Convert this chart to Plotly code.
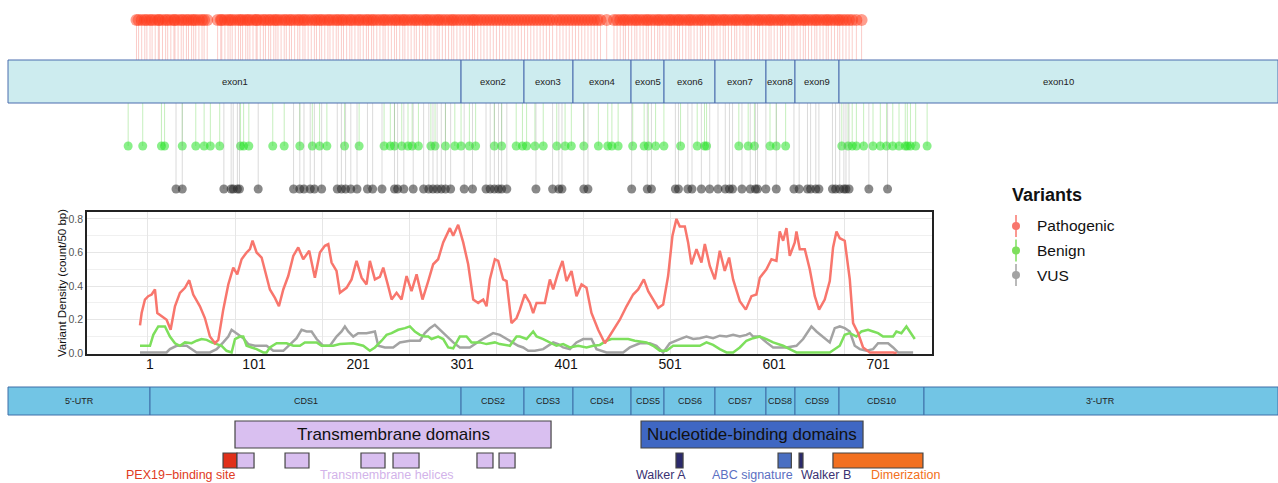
import plotly.graph_objects as go

# ---------------- data ----------------
# gene structure (protein-coordinate scale, aa; UTRs extend beyond 1..745)
exon_names = ["exon1", "exon2", "exon3", "exon4", "exon5", "exon6", "exon7", "exon8", "exon9", "exon10"]
exon_bounds = [-135.5, 300, 360.5, 407.6, 463.4, 495.1, 544.1, 593.1, 621, 663.3, 1085.3]
cds_names = ["5'-UTR", "CDS1", "CDS2", "CDS3", "CDS4", "CDS5", "CDS6", "CDS7", "CDS8", "CDS9", "CDS10", "3'-UTR"]
cds_bounds = [-135.5, 1, 300, 360.5, 407.6, 463.4, 495.1, 544.1, 593.1, 621, 663.3, 745, 1085.3]

domain_names = ["Transmembrane domains", "Nucleotide-binding domains"]
domain_start = [82.7, 473.0]
domain_end = [386.5, 686.4]

pex19_start = [71.2]
pex19_end = [84.6]
tm_helix_start = [84.6, 130.8, 203.8, 234.6, 315.3, 336.5]
tm_helix_end = [101.0, 153.8, 226.9, 259.6, 330.7, 351.9]
walker_a = [506.6, 513.4]
abc_signature = [604.7, 617.5]
walker_b = [624.9, 628.7]
dimerization = [657.5, 744.0]

feature_labels = ["PEX19\u2212binding site", "Transmembrane helices", "Walker A", "ABC signature", "Walker B", "Dimerization"]
feature_label_pos = [30.8, 228.8, 492.2, 579.7, 650.8, 727.7]

axis_tick_vals = [1, 101, 201, 301, 401, 501, 601, 701]
axis_tick_text = ["1", "101", "201", "301", "401", "501", "601", "701"]

# variant positions (aa scale)
pathogenic_pos = [-12, -10, -7, -4, -2, 1, 3, 6, 9, 10, 13, 16, 18, 21, 24, 25, 28, 31, 33, 36, 38, 41, 43, 45, 48, 51, 53, 56,
                  66, 69, 70, 73, 76, 78, 80, 83, 86, 88, 90, 93, 95, 97, 100, 103, 104, 107, 110, 112, 115, 117, 120, 122,
                  124, 127, 130, 132, 135, 137, 140, 143, 145, 148, 150, 153, 156, 159, 161, 164, 166, 169, 172, 174, 177,
                  180, 182, 185, 187, 190, 193, 195, 198, 201, 203, 206, 209, 211, 214, 216, 219, 222, 225, 227, 230, 233,
                  236, 238, 241, 244, 246, 249, 252, 255, 257, 260, 263, 266, 268, 271, 274, 277, 279, 282, 285, 288, 291,
                  293, 296, 299, 302, 305, 308, 311, 313, 316, 319, 322, 325, 328, 331, 334, 337, 340, 343, 346, 349, 352,
                  355, 358, 361, 364, 367, 370, 373, 376, 379, 382, 385, 388, 392, 395, 398, 401, 404, 407, 410, 413, 416,
                  419, 422, 425, 428, 431, 434, 440, 447, 450, 453, 456, 458, 461, 464, 467, 469, 472, 475, 478, 480, 483,
                  486, 489, 491, 494, 497, 500, 502, 505, 508, 510, 513, 516, 519, 521, 524, 527, 530, 532, 535, 538, 541,
                  543, 546, 549, 552, 554, 557, 560, 563, 565, 568, 571, 574, 576, 579, 582, 585, 587, 590, 593, 596, 598,
                  601, 604, 607, 609, 612, 615, 618, 620, 623, 626, 629, 631, 634, 637, 640, 642, 645, 648, 651, 653, 656,
                  659, 662, 664, 667, 670, 673, 676, 680, 685]
benign_pos = [-20, -6, 12, 15, 32, 45, 53, 59, 68, 88, 91, 96, 119, 130, 145, 157, 164, 171, 188, 202, 226, 232, 236,
              243, 249, 253, 259, 271, 275, 285, 294, 300, 308, 314, 332, 339, 353, 359, 363, 371, 379, 392, 400, 406,
              418, 432, 441, 445, 451, 465, 476, 480, 487, 495, 511, 527, 534, 536, 567, 576, 582, 597, 603, 612, 666,
              672, 676, 680, 687, 696, 703, 709, 715, 721, 727, 729, 732, 737, 748]
vus_pos = [26, 32, 72, 79, 81, 85, 87, 105, 139, 145, 149, 155, 159, 166, 181, 185, 189, 194, 200, 210, 215, 224, 236,
           239, 245, 254, 264, 269, 273, 277, 281, 285, 290, 303, 311, 324, 328, 332, 336, 339, 344, 372, 388, 394, 397,
           418, 422, 464, 479, 483, 506, 509, 518, 522, 531, 539, 547, 554, 558, 561, 570, 578, 583, 585, 593, 603,
           620, 625, 633, 636, 641, 644, 657, 660, 664, 668, 670, 673, 692, 710]

# density curves (count/50 bp) on the density-panel scale
path_x = [-8.2, -6.3, -2.5, 1.3, 5.2, 9.0, 11.7, 16.7, 22.4, 27.0, 32.0, 37.7, 43.5, 48.4, 53.0, 60.7, 66.4, 72.2, 78.0,
          81.8, 87.5, 93.3, 99.0, 103.6, 108.6, 114.3, 118.2, 121.2, 125.8, 131.6, 135.4, 141.1, 146.9, 151.5, 156.5,
          162.2, 168.0, 173.7, 179.4, 186.3, 192.8, 198.6, 204.3, 208.2, 212.0, 217.7, 221.6, 229.2, 235.0, 240.7,
          246.5, 252.2, 256.0, 261.8, 267.5, 271.4, 277.1, 281.0, 286.7, 292.4, 298.2, 303.9, 309.7, 316.5, 323.1,
          328.8, 334.5, 340.3, 348.0, 351.8, 357.5, 363.3, 369.0, 374.8, 380.5, 386.3, 390.1, 393.9, 399.7, 403.5,
          409.2, 413.1, 418.8, 424.6, 428.4, 434.1, 439.9, 443.7, 447.6, 457.1, 462.9, 466.7, 472.4, 477.4, 482.0,
          487.8, 493.5, 499.3, 505.0, 510.7, 518.4, 526.1, 529.9, 537.6, 543.3, 551.0, 558.6, 564.4, 570.9, 575.9,
          581.6, 587.4, 593.1, 598.8, 603.8, 608.4, 612.2, 618.0, 621.8, 625.6, 631.4, 637.1, 641.0, 646.7, 652.5,
          658.2, 663.9, 668.9, 673.5, 681.2, 688.1, 694.6, 700.3, 704.2, 711.8, 717.6, 723.3, 727.1, 731.0, 734.8,
          738.6, 744.4, 746.3, 750.1, 755.9, 761.6, 767.4, 772.3, 778.8, 784.6, 788.4, 792.3, 796.1, 801.8, 807.6,
          811.4, 817.2, 822.9, 830.6, 857.4, 861.6]
path_y = [0.166, 0.24, 0.32, 0.34, 0.35, 0.38, 0.24, 0.22, 0.20, 0.14, 0.28, 0.36, 0.39, 0.435, 0.35, 0.28, 0.21, 0.10, 0.06,
          0.08, 0.26, 0.41, 0.51, 0.47, 0.56, 0.60, 0.62, 0.67, 0.60, 0.57, 0.50, 0.38, 0.33, 0.28, 0.38, 0.46, 0.58,
          0.63, 0.56, 0.61, 0.45, 0.60, 0.64, 0.65, 0.54, 0.49, 0.36, 0.39, 0.44, 0.55, 0.45, 0.41, 0.55, 0.44, 0.455,
          0.51, 0.40, 0.32, 0.36, 0.32, 0.46, 0.37, 0.47, 0.32, 0.43, 0.53, 0.56, 0.66, 0.745, 0.70, 0.765, 0.66, 0.53,
          0.32, 0.30, 0.32, 0.28, 0.44, 0.56, 0.55, 0.44, 0.43, 0.18, 0.21, 0.26, 0.35, 0.30, 0.24, 0.30, 0.30, 0.44,
          0.38, 0.48, 0.55, 0.43, 0.49, 0.34, 0.41, 0.39, 0.24, 0.14, 0.06, 0.09, 0.15, 0.20, 0.28, 0.35, 0.38, 0.44,
          0.37, 0.32, 0.27, 0.29, 0.46, 0.70, 0.80, 0.755, 0.755, 0.66, 0.53, 0.62, 0.54, 0.65, 0.52, 0.44, 0.61, 0.49,
          0.57, 0.44, 0.31, 0.26, 0.34, 0.35, 0.45, 0.50, 0.56, 0.55, 0.725, 0.67, 0.745, 0.58, 0.66, 0.725, 0.62,
          0.62, 0.50, 0.34, 0.26, 0.32, 0.43, 0.63, 0.725, 0.685, 0.67, 0.44, 0.18, 0.12, 0.035, 0.005, 0.005, 0.0]

benign_x = [-8.2, 3.3, 7.1, 12.8, 20.5, 26.2, 32.0, 37.7, 43.5, 51.1, 56.9, 62.6, 68.4, 74.1, 79.9, 85.6, 91.3, 97.1,
            101.0, 106.7, 110.5, 114.3, 120.1, 125.8, 133.5, 137.3, 141.1, 148.8, 160.3, 168.0, 175.6, 181.3, 194.8,
            200.5, 213.9, 221.6, 236.9, 248.4, 256.0, 261.8, 269.5, 275.2, 281.0, 288.6, 296.3, 302.0, 307.7, 313.5,
            319.2, 323.1, 326.9, 334.5, 340.3, 346.0, 351.8, 359.4, 367.1, 372.8, 382.4, 390.1, 399.7, 405.4, 416.9,
            424.6, 428.4, 436.1, 443.7, 447.6, 455.2, 462.9, 470.5, 478.2, 485.9, 495.4, 505.0, 512.7, 520.3, 528.0,
            533.7, 543.3, 552.9, 560.5, 574.0, 581.6, 589.3, 596.9, 604.6, 612.2, 623.7, 635.2, 642.9, 650.5, 658.2,
            665.9, 673.5, 681.2, 688.8, 696.5, 704.2, 711.8, 719.5, 731.0, 738.6, 746.3, 765.4, 784.6, 796.1, 801.8,
            807.6, 815.2, 821.0, 828.6, 834.4, 840.1, 845.9, 853.5, 857.4, 861.2, 866.9, 872.7, 876.5, 882.3]
benign_y = [0.045, 0.045, 0.11, 0.16, 0.16, 0.10, 0.06, 0.045, 0.065, 0.06, 0.075, 0.085, 0.08, 0.065, 0.055, 0.045, 0.015,
            0.005, 0.085, 0.10, 0.10, 0.045, 0.035, 0.025, 0.005, 0.005, 0.035, 0.06, 0.06, 0.045, 0.045, 0.065, 0.065,
            0.045, 0.045, 0.055, 0.06, 0.045, 0.015, 0.035, 0.075, 0.11, 0.12, 0.14, 0.15, 0.16, 0.13, 0.11, 0.10, 0.10,
            0.085, 0.10, 0.085, 0.035, 0.03, 0.10, 0.10, 0.065, 0.065, 0.055, 0.065, 0.055, 0.045, 0.10, 0.10, 0.085,
            0.13, 0.10, 0.085, 0.065, 0.045, 0.055, 0.035, 0.045, 0.035, 0.045, 0.05, 0.075, 0.085, 0.085, 0.085, 0.075,
            0.065, 0.045, 0.015, 0.015, 0.045, 0.045, 0.045, 0.045, 0.065, 0.05, 0.025, 0.005, 0.005, 0.035, 0.075, 0.09,
            0.10, 0.085, 0.065, 0.045, 0.025, 0.005, 0.005, 0.005, 0.045, 0.11, 0.12, 0.10, 0.13, 0.14, 0.13, 0.12,
            0.10, 0.10, 0.10, 0.13, 0.12, 0.16, 0.13, 0.085]

vus_x = [-8.2, 22.4, 26.2, 33.9, 45.4, 51.1, 56.9, 72.2, 79.9, 87.5, 93.3, 97.1, 102.8, 110.5, 116.2, 123.9, 137.3, 145.0,
         156.5, 164.1, 171.8, 177.5, 183.3, 189.0, 194.8, 202.4, 210.1, 217.7, 223.5, 227.3, 231.1, 236.9, 242.6, 252.2,
         261.8, 265.6, 273.3, 282.8, 290.5, 302.0, 313.5, 319.2, 325.0, 330.7, 336.5, 344.1, 351.8, 359.4, 370.9, 382.4,
         390.1, 397.7, 405.4, 413.1, 420.7, 426.5, 432.2, 438.0, 445.6, 455.2, 466.7, 472.4, 478.2, 485.9, 493.5, 501.2,
         510.7, 516.5, 528.0, 547.1, 554.8, 566.3, 577.8, 585.4, 593.1, 600.7, 612.2, 619.9, 627.6, 635.2, 642.9, 650.5,
         658.2, 665.9, 673.5, 681.2, 688.8, 692.7, 696.5, 704.2, 711.8, 719.5, 734.8, 746.3, 754.0, 759.7, 763.5, 769.3,
         777.0, 784.6, 790.3, 796.1, 801.8, 807.6, 813.3, 819.1, 826.7, 834.4, 840.1, 851.6, 857.4, 863.1, 880.4]
vus_y = [0.005, 0.005, 0.025, 0.045, 0.045, 0.025, 0.005, 0.005, 0.025, 0.065, 0.10, 0.14, 0.12, 0.09, 0.055, 0.045, 0.045,
         0.015, 0.015, 0.055, 0.09, 0.14, 0.13, 0.13, 0.085, 0.045, 0.045, 0.10, 0.13, 0.16, 0.13, 0.10, 0.12, 0.12, 0.13,
         0.045, 0.035, 0.035, 0.065, 0.075, 0.075, 0.12, 0.15, 0.17, 0.14, 0.10, 0.065, 0.035, 0.035, 0.075, 0.10, 0.12,
         0.11, 0.085, 0.065, 0.045, 0.035, 0.015, 0.015, 0.025, 0.065, 0.055, 0.035, 0.025, 0.065, 0.085, 0.085, 0.025,
         0.005, 0.005, 0.035, 0.06, 0.06, 0.045, 0.005, 0.06, 0.085, 0.10, 0.085, 0.09, 0.10, 0.09, 0.105, 0.10, 0.11,
         0.10, 0.11, 0.12, 0.10, 0.10, 0.065, 0.035, 0.035, 0.045, 0.085, 0.13, 0.16, 0.13, 0.10, 0.065, 0.15, 0.16,
         0.15, 0.13, 0.045, 0.025, 0.015, 0.025, 0.06, 0.06, 0.035, 0.005, 0.005]

density_grid = [1, 101, 201, 301, 401, 501, 601, 701, 801]
legend_names = ["Pathogenic", "Benign", "VUS"]

# ---------------- layout constants ----------------
W, H = 1278, 483
FONT = "Liberation Sans, Arial, sans-serif"


def py(px):
    return 1 - px / H


C_PATH, C_BEN, C_VUS = "#f8766d", "#7ddf5c", "#a3a3a3"

fig = go.Figure()


def lollipops(pos, y_dot, y_base, stem_color, dot_color, size):
    xs, ys = [], []
    for p in pos:
        xs += [p, p, None]
        ys += [y_dot, y_base, None]
    fig.add_trace(go.Scatter(x=xs, y=ys, mode="lines", line=dict(color=stem_color, width=1),
                             xaxis="x", yaxis="y", hoverinfo="skip", showlegend=False))
    fig.add_trace(go.Scatter(x=pos, y=[y_dot] * len(pos), mode="markers",
                             marker=dict(color=dot_color, size=size, line=dict(width=0)),
                             xaxis="x", yaxis="y", showlegend=False))


lollipops(pathogenic_pos, 20, 60, "rgba(240,90,80,0.3)", "rgba(255,62,30,0.5)", 12)
lollipops(benign_pos, 146, 103, "rgba(110,215,90,0.4)", "rgba(40,225,40,0.55)", 9)
lollipops(vus_pos, 189, 103, "rgba(150,150,150,0.35)", "rgba(40,40,40,0.55)", 9)

# ---- density curves ----
for xs, ys, c in [(vus_x, vus_y, C_VUS), (benign_x, benign_y, C_BEN), (path_x, path_y, C_PATH)]:
    fig.add_trace(go.Scatter(x=xs, y=ys, mode="lines", line=dict(color=c, width=2.5),
                             xaxis="x2", yaxis="y2", showlegend=False))

shapes, annots = [], []


def label(x, y, text, size, color, xref="x", xanchor="center", angle=0):
    annots.append(dict(xref=xref, yref="paper", x=x, y=y, text=text, showarrow=False,
                       xanchor=xanchor, yanchor="middle", textangle=angle,
                       font=dict(size=size, color=color, family=FONT)))


# ---- exon row ----
for i, n in enumerate(exon_names):
    x0, x1 = exon_bounds[i], exon_bounds[i + 1]
    shapes.append(dict(type="rect", xref="x", yref="paper", x0=x0, x1=x1, y0=py(103), y1=py(60),
                       fillcolor="#cdecef", line=dict(color="#4a6cae", width=1)))
    label((x0 + x1) / 2, py(81.5), n, 9.5, "#222")

# ---- CDS row ----
for i, n in enumerate(cds_names):
    x0, x1 = cds_bounds[i], cds_bounds[i + 1]
    shapes.append(dict(type="rect", xref="x", yref="paper", x0=x0, x1=x1, y0=py(415), y1=py(387),
                       fillcolor="#72c5e5", line=dict(color="#3f6fa8", width=1)))
    label((x0 + x1) / 2, py(401), n, 9, "#222")

# ---- domains ----
dom_fill = ["#d9bff0", "#3f67c3"]
for i, n in enumerate(domain_names):
    shapes.append(dict(type="rect", xref="x", yref="paper", x0=domain_start[i], x1=domain_end[i],
                       y0=py(448), y1=py(421), fillcolor=dom_fill[i], line=dict(color="#444", width=1.2)))
    label((domain_start[i] + domain_end[i]) / 2, py(434.5), n, 17, "#111")


def motif(x0, x1, fill):
    shapes.append(dict(type="rect", xref="x", yref="paper", x0=x0, x1=x1, y0=py(468), y1=py(453),
                       fillcolor=fill, line=dict(color="#444", width=1.2)))


motif(pex19_start[0], pex19_end[0], "#e0301a")
for a, b in zip(tm_helix_start, tm_helix_end):
    motif(a, b, "#d9bff0")
motif(walker_a[0], walker_a[1], "#2b2a6c")
motif(abc_signature[0], abc_signature[1], "#4a6fc2")
motif(walker_b[0], walker_b[1], "#2b2a6c")
motif(dimerization[0], dimerization[1], "#f27020")

label_colors = ["#e03a22", "#d2b3ea", "#3a3272", "#5b70c2", "#3a3272", "#f27020"]
for t, x, c in zip(feature_labels, feature_label_pos, label_colors):
    label(x, py(475), t, 12.5, c)

# ---- y axis title for density ----
label(62 / W, py(283), "Variant Density (count/50 bp)", 11.5, "#111", xref="paper", angle=-90)

# ---- legend ----
label(1010 / W, py(195), "<b>Variants</b>", 18, "#111", xref="paper", xanchor="left")
for i, (n, c) in enumerate(zip(legend_names, [C_PATH, C_BEN, C_VUS])):
    yc = 226 + i * 24.5
    shapes.append(dict(type="line", xref="paper", yref="paper", x0=1016 / W, x1=1016 / W,
                       y0=py(yc - 11), y1=py(yc + 11), line=dict(color=c, width=1.5)))
    shapes.append(dict(type="circle", xref="paper", yref="paper", x0=1012 / W, x1=1020 / W,
                       y0=py(yc + 4), y1=py(yc - 4), fillcolor=c, line=dict(color=c, width=0)))
    label(1035 / W, py(yc), n, 15.5, "#111", xref="paper", xanchor="left")

fig.update_layout(
    width=W, height=H, autosize=False,
    margin=dict(l=0, r=0, t=0, b=0, pad=0, autoexpand=False),
    paper_bgcolor="white", plot_bgcolor="white",
    showlegend=False,
    shapes=shapes, annotations=annots,
    xaxis=dict(domain=[0, 1], range=[-143.2, 1085.3], anchor="free", position=py(354),
               automargin=False,
               showgrid=False, zeroline=False, showline=False, ticks="",
               tickvals=axis_tick_vals, ticktext=axis_tick_text,
               tickfont=dict(size=14, color="#111", family=FONT)),
    yaxis=dict(domain=[0, 1], range=[H, 0], visible=False, anchor="x", automargin=False),
    xaxis2=dict(domain=[87 / W, 932 / W], range=[-69.1, 902.1], anchor="y2", automargin=False,
                tickvals=density_grid, showticklabels=False, ticks="",
                showgrid=True, gridcolor="#e6e6e6", gridwidth=1, zeroline=False,
                showline=True, mirror=True, linecolor="#222", linewidth=1.5),
    yaxis2=dict(domain=[py(354), py(212)], range=[-0.004, 0.841], anchor="x2", automargin=False,
                tick0=0, dtick=0.2, tickformat=".1f", ticks="",
                tickfont=dict(size=10.5, color="#555", family=FONT),
                showgrid=True, gridcolor="#e6e6e6", gridwidth=1, zeroline=False,
                minor=dict(dtick=0.1, showgrid=True, gridcolor="#f0f0f0"),
                showline=True, mirror=True, linecolor="#222", linewidth=1.5),
)

fig.write_html(
    "out.html",
    config={"displayModeBar": False},
    post_script="document.body.style.margin='0';document.body.style.overflow='hidden';",
)
